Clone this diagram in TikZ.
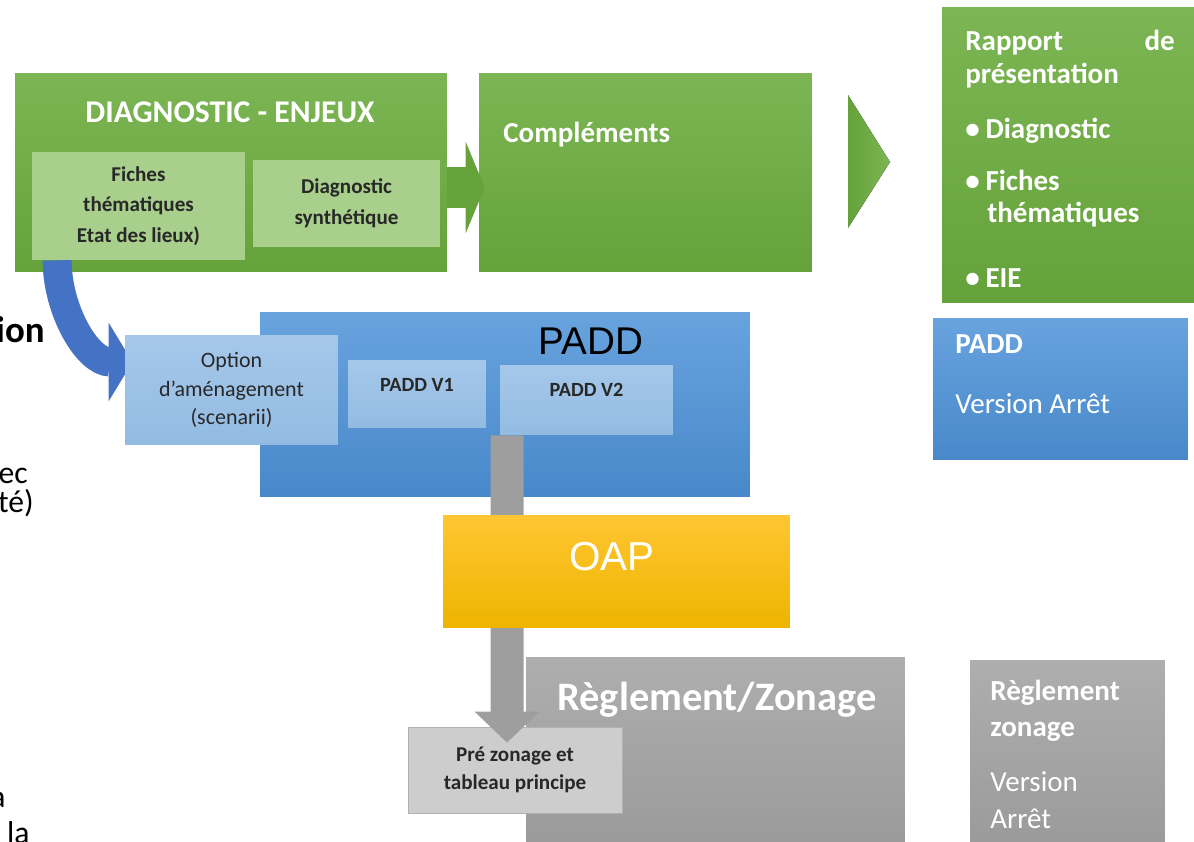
\documentclass[tikz,border=0pt]{standalone}
\usepackage{fontspec}
\setmainfont{Carlito}
\newfontfamily\arialfont{Liberation Sans}
\usepackage{tikz}
\usepackage{xcolor}
\usetikzlibrary{arrows.meta}
\usetikzlibrary{calc}

\definecolor{vertHaut}{RGB}{124,182,84}
\definecolor{vertBas}{RGB}{101,162,58}
\definecolor{vertClair}{RGB}{168,207,140}
\definecolor{bleuHaut}{RGB}{104,163,222}
\definecolor{bleuBas}{RGB}{72,136,202}
\definecolor{bleuClair}{RGB}{165,200,234}
\definecolor{bleuClairBas}{RGB}{147,187,226}
\definecolor{bleuFleche}{RGB}{68,114,196}
\definecolor{jauneHaut}{RGB}{255,198,50}
\definecolor{jauneBas}{RGB}{238,180,0}
\definecolor{grisHaut}{RGB}{174,174,174}
\definecolor{grisBas}{RGB}{152,152,152}
\definecolor{grisClair}{RGB}{205,205,205}
\definecolor{grisFleche}{RGB}{158,158,158}
\definecolor{texteFonce}{RGB}{40,40,40}

\tikzset{
  vert/.style={rectangle, inner sep=0pt, top color=vertHaut, bottom color=vertBas},
  vertclair/.style={rectangle, inner sep=0pt, align=center, fill=vertClair, text=texteFonce, font=\fontsize{12}{17.5}\selectfont\bfseries},
  bleu/.style={rectangle, inner sep=0pt, top color=bleuHaut, bottom color=bleuBas},
  bleuclair/.style={rectangle, inner sep=0pt, align=center, top color=bleuClair, bottom color=bleuClairBas, text=texteFonce},
  jaune/.style={rectangle, inner sep=0pt, top color=jauneHaut, bottom color=jauneBas},
  gris/.style={rectangle, inner sep=0pt, top color=grisHaut, bottom color=grisBas},
  grisclair/.style={rectangle, inner sep=0pt, align=center, fill=grisClair, draw=grisFleche!80, text=texteFonce, font=\fontsize{12}{16}\selectfont\bfseries},
  titre/.style={text=white, font=\fontsize{16.5}{20}\selectfont\bfseries, inner sep=0pt},
  ligne/.style={text=white, font=\fontsize{16.5}{20}\selectfont, inner sep=0pt},
  coupe/.style={text=black, font=\fontsize{18}{22}\selectfont, inner sep=0pt, anchor=base east},
  flecheverte/.style={vertBas, line width=0.82cm, -{Triangle[width=1.82cm,length=0.38cm]}},
  flechebleue/.style={bleuFleche, line width=0.58cm, -{Triangle[width=1.56cm,length=0.48cm]}},
  flechegrise/.style={grisFleche, line width=0.66cm, -{Triangle[width=1.26cm,length=0.62cm]}}
}

\begin{document}
\begin{tikzpicture}[x=0.02cm, y=-0.02cm]
\useasboundingbox (0,0) rectangle (1194,842);
\clip (0,0) rectangle (1194,842);

% Diagnostic (nodes)
\node[vert, minimum width=8.64cm, minimum height=3.98cm] (diag) at (231,172.5) {};
\node[titre, font=\fontsize{18}{22}\selectfont\bfseries] (diagtitre) at (230,112.5) {DIAGNOSTIC - ENJEUX};
\node[vertclair, minimum width=4.26cm, minimum height=2.16cm] (fiches) at (138.5,206) {Fiches\\thématiques\\Etat des lieux)};
\node[vertclair, minimum width=3.74cm, minimum height=1.74cm] (synth) at (346.5,203.5) {Diagnostic\\synthétique};

% Complements (node)
\node[vert, minimum width=6.66cm, minimum height=3.98cm] (compl) at (645.5,172.5) {};
\node[titre, anchor=base west] (compltxt) at (503,142) {Compléments};
% Arrow from diagnostic to complements
\draw[flecheverte] ([yshift=-0.3cm]diag.east) -- ([xshift=0.12cm,yshift=-0.3cm]compl.west);
\fill[left color=vertBas, right color=vertHaut] (848,95) -- (890,162) -- (848,228) -- cycle;

% Rapport de presentation (node)
\node[vert, minimum width=5.04cm, minimum height=5.92cm] (rapport) at (1068,155) {};
\node[titre, anchor=base west] (rap1) at (965,50) {Rapport};
\node[titre, anchor=base east] (rap2) at (1175,50) {de};
\node[titre, anchor=base west] (rap3) at (965,83) {présentation};
\node[titre, anchor=base west] (rap4) at (965,138) {\makebox[11.5pt][l]{\textbullet}Diagnostic};
\node[titre, anchor=base west] (rap5) at (965,190) {\makebox[11.5pt][l]{\textbullet}Fiches};
\node[titre, anchor=base west] (rap6) at (987,222) {thématiques};
\node[titre, anchor=base west] (rap7) at (965,287) {\makebox[11.5pt][l]{\textbullet}EIE};

% PADD (nodes)
\node[bleu, minimum width=9.8cm, minimum height=3.7cm] (padd) at (505,404.5) {};
\node[inner sep=0pt, font=\arialfont\fontsize{22}{26}\selectfont] (paddtitre) at (591,341) {PADD};
% Arrow from fiches to option
\coordinate (bdep) at ([xshift=0.51cm]fiches.south west);
\coordinate (bfin) at (132.5,362);
\draw[flechebleue] (bdep) .. controls ([yshift=-1.0cm]bdep) and ([xshift=-0.9cm]bfin) .. (bfin);
\node[bleuclair, minimum width=4.26cm, minimum height=2.2cm, font=\fontsize{12.5}{16}\selectfont] (option) at (231.5,390) {Option\\d’aménagement\\(scenarii)};
\node[bleuclair, minimum width=2.76cm, minimum height=1.36cm, label={[font=\fontsize{11.5}{14}\selectfont\bfseries, text=texteFonce, yshift=0.18cm]center:PADD V1}] (v1) at (417,394) {};
\node[bleuclair, minimum width=3.46cm, minimum height=1.4cm, label={[font=\fontsize{11.5}{14}\selectfont\bfseries, text=texteFonce, yshift=0.2cm]center:PADD V2}] (v2) at (586.5,400) {};

% PADD version arret (node)
\node[bleu, minimum width=5.1cm, minimum height=2.84cm] (paddarr) at (1060.5,389) {};
\node[titre, anchor=base west] (paddarr1) at (955,353) {PADD};
\node[ligne, anchor=base west] (paddarr2) at (955,413) {Version Arrêt};

% Reglement / zonage (nodes)
\node[gris, minimum width=7.58cm, minimum height=4.26cm] (regl) at (715.5,763.5) {};
\node[titre, font=\fontsize{23}{27}\selectfont\bfseries, anchor=base] (regltxt) at (717,710) {Règlement/Zonage};
\node[grisclair, minimum width=4.28cm, minimum height=1.72cm] (prez) at (515,770) {Pré zonage et\\tableau principe};
% Arrow from PADD V2 to pre zonage
\draw[flechegrise] ([xshift=-1.59cm]v2.south) -- ([xshift=-0.16cm,yshift=-0.32cm]prez.north);

% OAP (node)
\node[jaune, minimum width=6.94cm, minimum height=2.26cm, label={[text=white, font=\arialfont\fontsize{23}{27}\selectfont, xshift=-0.09cm, yshift=0.29cm]center:OAP}] (oap) at (616.5,571.5) {};

% Reglement zonage version arret (node)
\node[gris, minimum width=3.9cm, minimum height=4.2cm] (reglarr) at (1067.5,765) {};
\node[titre, anchor=base west] (reglarr1) at (990,700) {Règlement};
\node[titre, anchor=base west] (reglarr2) at (990,736) {zonage};
\node[ligne, anchor=base west] (reglarr3) at (990,791) {Version};
\node[ligne, anchor=base west] (reglarr4) at (990,828) {Arrêt};

% Cut text on the left edge
\node[coupe, font=\fontsize{21}{24}\selectfont\bfseries] (coupe1) at (45,342) {ion};
\node[coupe] (coupe2) at (28,483) {ec};
\node[coupe] (coupe3) at (34,512) {té)};
\node[coupe] (coupe4) at (6,807) {a};
\node[coupe] (coupe5) at (30,843) {la};
\end{tikzpicture}
\end{document}
